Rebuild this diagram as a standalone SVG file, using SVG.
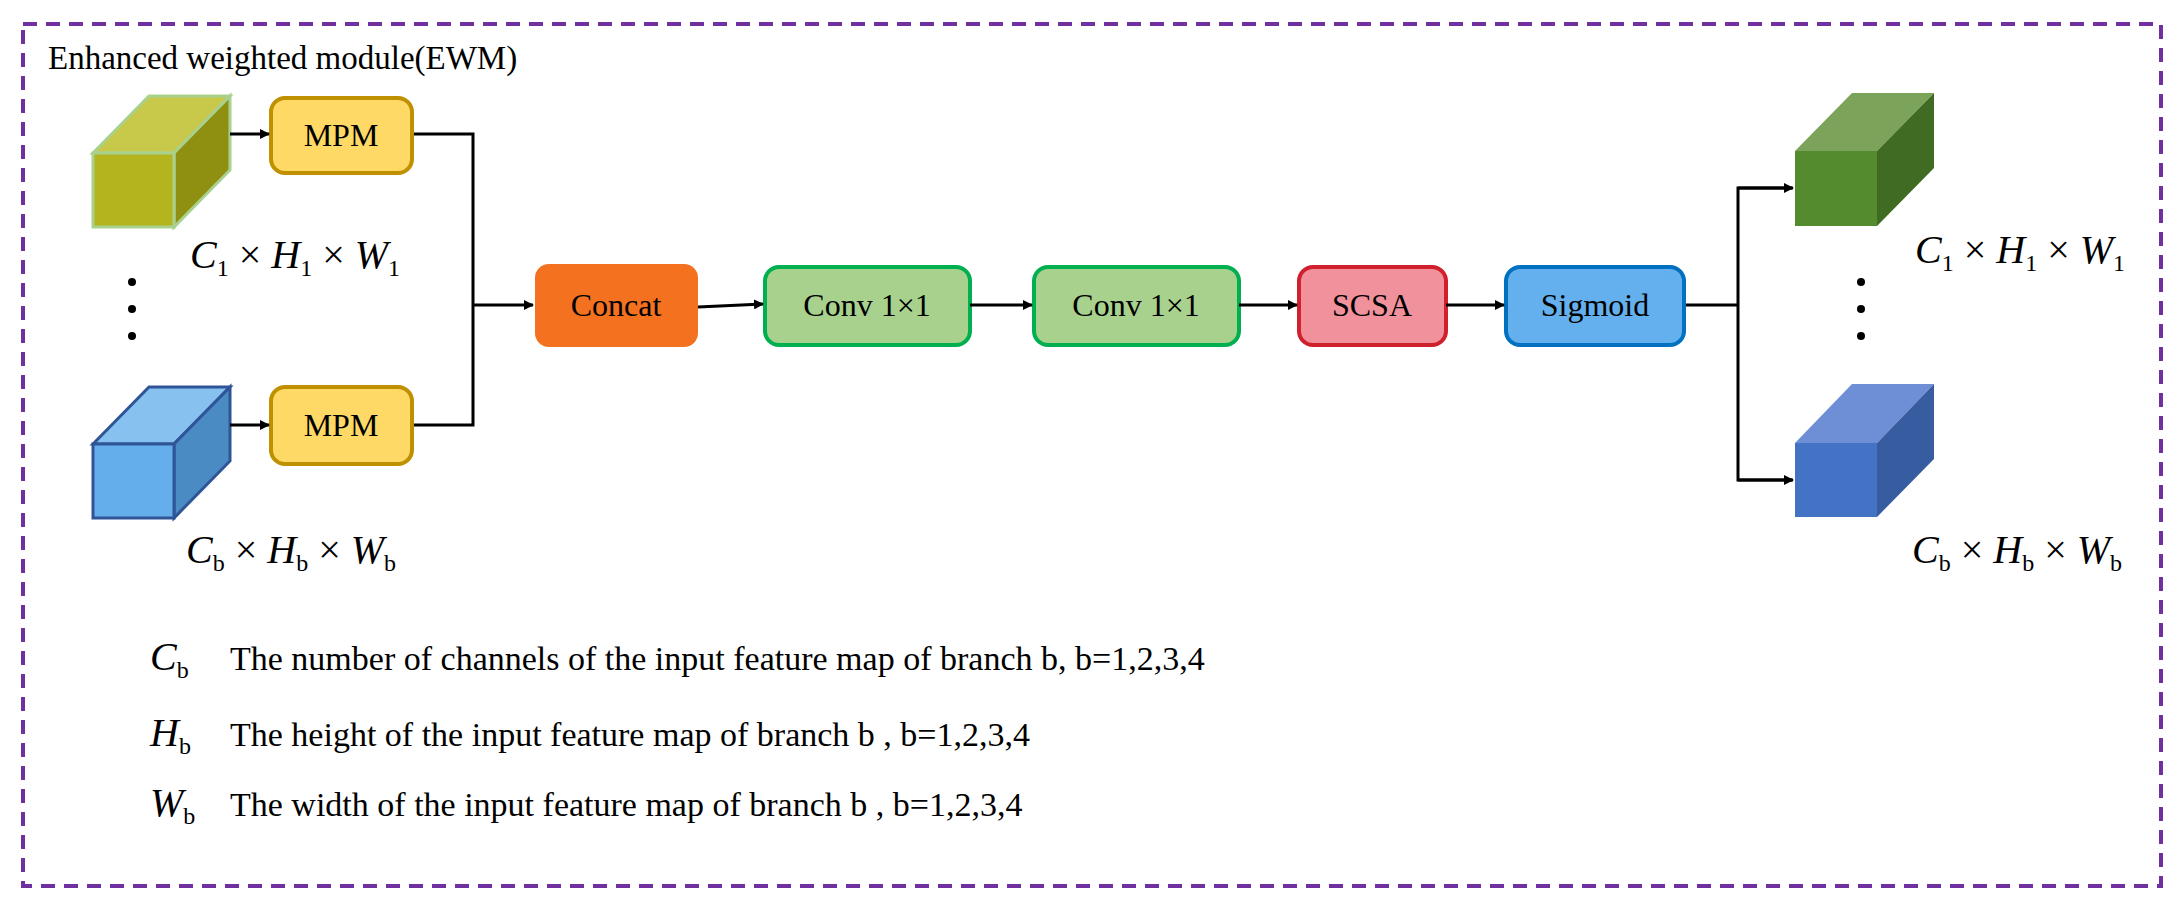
<svg xmlns="http://www.w3.org/2000/svg" width="2184" height="911" viewBox="0 0 2184 911">
<defs>
<marker id="ah" markerWidth="10" markerHeight="10" refX="9" refY="5" orient="auto" markerUnits="userSpaceOnUse"><path d="M0,0 L10,5 L0,10 Z" fill="#000"/></marker>
<style>
text{font-family:"Liberation Serif","Times New Roman",serif;fill:#000}
.lbl{font-size:32px;text-anchor:middle;dominant-baseline:central}
.box{stroke-width:4}
.con{fill:none;stroke:#000;stroke-width:3}
.m{font-size:40px;font-style:italic}
.s{font-size:24px;font-style:normal}
.x{font-style:normal}
.leg{font-size:34px}
</style>
</defs>
<rect x="23" y="24" width="2138" height="862" fill="none" stroke="#7030A0" stroke-width="4" stroke-dasharray="14 9"/>
<text x="48" y="69" font-size="33">Enhanced weighted module(EWM)</text>

<g id="cube-in-1">
<polygon points="93,153 149,96 230,96 174,153" fill="#C8C84A" stroke="#A9D18E" stroke-width="3"/>
<polygon points="174,153 230,96 230,170 174,227" fill="#8F8F12" stroke="#A9D18E" stroke-width="3"/>
<rect x="93" y="153" width="81" height="74" fill="#B4B41E" stroke="#A9D18E" stroke-width="3"/>
</g>
<g id="cube-in-b">
<polygon points="93,444 149,387 230,387 174,444" fill="#86C1F0" stroke="#2F5597" stroke-width="3"/>
<polygon points="174,444 230,387 230,461 174,518" fill="#4A8BC4" stroke="#2F5597" stroke-width="3"/>
<rect x="93" y="444" width="81" height="74" fill="#64AEEC" stroke="#2F5597" stroke-width="3"/>
</g>
<g id="cube-out-1">
<polygon points="1795,151 1852,93 1934,93 1877,151" fill="#7BA35A"/>
<polygon points="1877,151 1934,93 1934,168 1877,226" fill="#3F6B22"/>
<rect x="1795" y="151" width="82" height="75" fill="#548B2E"/>
</g>
<g id="cube-out-b">
<polygon points="1795,443 1852,384 1934,384 1877,443" fill="#6E8FD6"/>
<polygon points="1877,443 1934,384 1934,459 1877,517" fill="#375CA0"/>
<rect x="1795" y="443" width="82" height="74" fill="#4472C4"/>
</g>

<g id="mpm-1"><rect class="box" x="271" y="98" width="141" height="75" rx="14" fill="#FFD966" stroke="#BF9000"/><text class="lbl" x="341" y="135">MPM</text></g>
<g id="mpm-b"><rect class="box" x="271" y="387" width="141" height="77" rx="14" fill="#FFD966" stroke="#BF9000"/><text class="lbl" x="341" y="425">MPM</text></g>
<g id="concat"><rect x="535" y="264" width="163" height="83" rx="14" fill="#F4711F"/><text class="lbl" x="616" y="305">Concat</text></g>
<g id="conv-1"><rect class="box" x="765" y="267" width="205" height="78" rx="14" fill="#A9D18E" stroke="#00B050"/><text class="lbl" x="867" y="305">Conv 1×1</text></g>
<g id="conv-2"><rect class="box" x="1034" y="267" width="205" height="78" rx="14" fill="#A9D18E" stroke="#00B050"/><text class="lbl" x="1136" y="305">Conv 1×1</text></g>
<g id="scsa"><rect class="box" x="1299" y="267" width="147" height="78" rx="14" fill="#F0919B" stroke="#D0202E"/><text class="lbl" x="1372" y="305">SCSA</text></g>
<g id="sigmoid"><rect class="box" x="1506" y="267" width="178" height="78" rx="14" fill="#64B0EE" stroke="#0070C0"/><text class="lbl" x="1595" y="305">Sigmoid</text></g>

<g id="connectors">
<line class="con" x1="230" y1="134" x2="269" y2="134" marker-end="url(#ah)"/>
<line class="con" x1="230" y1="425" x2="269" y2="425" marker-end="url(#ah)"/>
<polyline class="con" points="414,134 473,134 473,425 414,425"/>
<line class="con" x1="473" y1="305" x2="533" y2="305" marker-end="url(#ah)"/>
<line class="con" x1="698" y1="307" x2="763" y2="304" marker-end="url(#ah)"/>
<line class="con" x1="970" y1="305" x2="1032" y2="305" marker-end="url(#ah)"/>
<line class="con" x1="1239" y1="305" x2="1297" y2="305" marker-end="url(#ah)"/>
<line class="con" x1="1446" y1="305" x2="1504" y2="305" marker-end="url(#ah)"/>
<polyline class="con" points="1686,305 1738,305"/>
<polyline class="con" points="1792,188 1738,188 1738,480 1792,480"/>
<line class="con" x1="1738" y1="188" x2="1793" y2="188" marker-end="url(#ah)"/>
<line class="con" x1="1738" y1="480" x2="1793" y2="480" marker-end="url(#ah)"/>
</g>

<g id="dims">
<text class="m" x="190" y="268">C<tspan class="s" dy="8">1</tspan><tspan class="x" dy="-8"> × </tspan>H<tspan class="s" dy="8">1</tspan><tspan class="x" dy="-8"> × </tspan>W<tspan class="s" dy="8">1</tspan></text>
<text class="m" x="186" y="563">C<tspan class="s" dy="8" font-style="italic">b</tspan><tspan class="x" dy="-8"> × </tspan>H<tspan class="s" dy="8" font-style="italic">b</tspan><tspan class="x" dy="-8"> × </tspan>W<tspan class="s" dy="8" font-style="italic">b</tspan></text>
<text class="m" x="1915" y="263">C<tspan class="s" dy="8">1</tspan><tspan class="x" dy="-8"> × </tspan>H<tspan class="s" dy="8">1</tspan><tspan class="x" dy="-8"> × </tspan>W<tspan class="s" dy="8">1</tspan></text>
<text class="m" x="1912" y="563">C<tspan class="s" dy="8" font-style="italic">b</tspan><tspan class="x" dy="-8"> × </tspan>H<tspan class="s" dy="8" font-style="italic">b</tspan><tspan class="x" dy="-8"> × </tspan>W<tspan class="s" dy="8" font-style="italic">b</tspan></text>
<circle cx="132" cy="282" r="4"/><circle cx="132" cy="309" r="4"/><circle cx="132" cy="336" r="4"/>
<circle cx="1861" cy="282" r="4"/><circle cx="1861" cy="309" r="4"/><circle cx="1861" cy="336" r="4"/>
</g>

<g id="legend">
<text class="m" x="150" y="670">C<tspan class="s" dy="8" font-style="italic">b</tspan></text>
<text class="leg" x="230" y="670">The number of channels  of the input feature map of branch  b, b=1,2,3,4</text>
<text class="m" x="150" y="746">H<tspan class="s" dy="8" font-style="italic">b</tspan></text>
<text class="leg" x="230" y="746">The height of the input feature map of branch b , b=1,2,3,4</text>
<text class="m" x="150" y="816">W<tspan class="s" dy="8" font-style="italic">b</tspan></text>
<text class="leg" x="230" y="816">The width of the input feature map of branch b , b=1,2,3,4</text>
</g>
</svg>
